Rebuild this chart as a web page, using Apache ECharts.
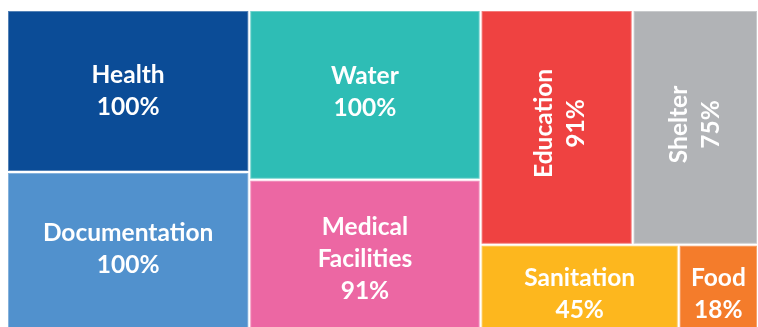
<!DOCTYPE html>
<html>
<head>
<meta charset="utf-8">
<script src="https://cdn.jsdelivr.net/npm/echarts@6/dist/echarts.min.js"></script>
<style>
  html, body { margin: 0; padding: 0; background: #ffffff; }
  #chart { width: 758px; height: 327px; }
</style>
</head>
<body>
<div id="chart"></div>
<script>
// Sector coverage (%)
const categories = ['Health', 'Documentation', 'Water', 'Medical Facilities', 'Education', 'Shelter', 'Sanitation', 'Food'];
const coverage = [100, 100, 100, 91, 91, 75, 45, 18];
const colors = ['#0B4C97', '#5191CD', '#2EBDB5', '#EC67A3', '#EF4241', '#B1B3B6', '#FDB71E', '#F47C2B'];
// Sectors whose label runs vertically
const verticalLabels = ['Education', 'Shelter'];
// Grouping of sectors into blocks (indices into categories)
const blocks = [[0, 1], [2, 3], [[4, 5], [6, 7]]];
// Small label nudges (px, in the label's own rotated frame)
const labelNudge = {
  'Documentation': [0, -4],
  'Water': [0, -3],
  'Medical Facilities': [0, 2],
  'Education': [4, 3],
  'Shelter': [3, 0],
  'Sanitation': [0, 5],
  'Food': [0, 5]
};

function tint(hex, k) {
  const n = parseInt(hex.slice(1), 16);
  const r = (n >> 16) & 255, g = (n >> 8) & 255, b = n & 255;
  const m = c => Math.round(c + (255 - c) * k);
  return 'rgb(' + m(r) + ',' + m(g) + ',' + m(b) + ')';
}

function leaf(i) {
  const name = categories[i];
  const item = {
    name: name,
    value: coverage[i],
    itemStyle: {
      color: colors[i],
      borderColor: tint(colors[i], 0.3),
      borderWidth: 1,
      gapWidth: 0
    },
    label: {}
  };
  if (verticalLabels.indexOf(name) >= 0) item.label.rotate = 90;
  if (labelNudge[name]) item.label.offset = labelNudge[name];
  return item;
}

function build(node) {
  if (typeof node === 'number') return leaf(node);
  const children = node.map(build);
  const total = children.reduce((s, c) => s + c.value, 0);
  return { value: total, children: children };
}

const treeData = blocks.map(build);

const chart = echarts.init(document.getElementById('chart'), null, { renderer: 'canvas' });
chart.setOption({
  animation: false,
  series: [{
    type: 'treemap',
    left: 8,
    top: 11,
    width: 749,
    height: 322,
    sort: false,
    squareRatio: 1,
    roam: false,
    nodeClick: false,
    breadcrumb: { show: false },
    upperLabel: { show: false },
    itemStyle: { borderWidth: 0, gapWidth: 2, borderColor: '#ffffff' },
    levels: [
      { itemStyle: { borderWidth: 0, gapWidth: 2 } },
      { itemStyle: { borderWidth: 0, gapWidth: 2 } },
      { itemStyle: { borderWidth: 0, gapWidth: 2 } },
      { itemStyle: { borderWidth: 0, gapWidth: 2 } }
    ],
    label: {
      show: true,
      position: 'inside',
      color: '#ffffff',
      fontFamily: 'Lato',
      fontWeight: 'bold',
      fontSize: 24.5,
      lineHeight: 32,
      align: 'center',
      verticalAlign: 'middle',
      overflow: 'none',
      formatter: p => p.name.split(' ').join('\n') + '\n' + p.value + '%'
    },
    emphasis: { disabled: true },
    data: treeData
  }]
});
</script>
</body>
</html>
